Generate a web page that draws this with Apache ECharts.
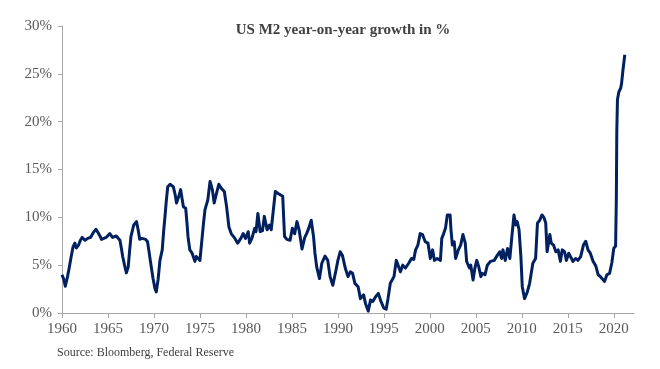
<!DOCTYPE html>
<html>
<head>
<meta charset="utf-8">
<script src="https://cdn.jsdelivr.net/npm/echarts@6/dist/echarts.min.js"></script>
<style>
html,body{margin:0;padding:0;background:#fff;}
#chart{width:660px;height:369px;}
</style>
</head>
<body>
<div id="chart"></div>
<script>
const titleText = 'US M2 year-on-year growth in %';
const sourceText = 'Source: Bloomberg, Federal Reserve';
const xTickYears = [1960,1965,1970,1975,1980,1985,1990,1995,2000,2005,2010,2015,2020];
const yTicks = [0,5,10,15,20,25,30];

const years = [
1960.0,1960.2,1960.36,1960.6,1960.8,1961.0,1961.2,1961.4,1961.55,1961.8,
1962.0,1962.2,1962.5,1962.8,1963.1,1963.4,1963.7,1963.9,1964.1,1964.3,
1964.45,1964.8,1965.0,1965.2,1965.5,1965.9,1966.1,1966.3,1966.45,1966.6,
1966.8,1967.0,1967.2,1967.35,1967.5,1967.8,1968.1,1968.3,1968.45,1968.7,
1968.9,1969.1,1969.3,1969.45,1969.6,1969.9,1970.1,1970.25,1970.45,1970.65,
1970.9,1971.05,1971.2,1971.35,1971.5,1971.75,1972.1,1972.3,1972.45,1972.7,
1972.9,1973.05,1973.2,1973.45,1973.6,1973.7,1973.9,1974.15,1974.45,1974.6,
1974.75,1975.0,1975.25,1975.4,1975.55,1975.85,1976.1,1976.35,1976.55,1976.8,
1977.05,1977.35,1977.65,1977.9,1978.15,1978.4,1978.6,1978.8,1979.1,1979.45,
1979.7,1979.95,1980.25,1980.4,1980.65,1980.95,1981.1,1981.3,1981.55,1981.8,
1982.0,1982.3,1982.55,1982.75,1982.95,1983.2,1983.5,1983.7,1984.0,1984.2,
1984.45,1984.8,1985.05,1985.3,1985.55,1985.8,1986.1,1986.4,1986.6,1986.85,
1987.1,1987.35,1987.5,1987.7,1988.0,1988.25,1988.6,1988.9,1989.15,1989.45,
1989.8,1990.0,1990.25,1990.5,1990.8,1991.1,1991.35,1991.6,1991.85,1992.2,
1992.45,1992.65,1992.8,1993.0,1993.3,1993.55,1993.8,1994.1,1994.4,1994.65,
1995.0,1995.25,1995.45,1995.7,1996.1,1996.35,1996.55,1996.8,1997.05,1997.35,
1997.7,1998.0,1998.25,1998.45,1998.7,1998.95,1999.2,1999.5,1999.8,2000.05,
2000.3,2000.5,2000.8,2001.15,2001.3,2001.5,2001.7,2001.9,2002.2,2002.3,
2002.45,2002.65,2002.8,2003.1,2003.35,2003.6,2003.85,2004.0,2004.3,2004.45,
2004.7,2004.9,2005.1,2005.3,2005.55,2005.7,2006.0,2006.25,2006.6,2007.0,
2007.35,2007.6,2007.8,2007.95,2008.2,2008.45,2008.7,2008.9,2009.15,2009.35,
2009.5,2009.7,2009.9,2010.05,2010.3,2010.6,2010.85,2011.2,2011.5,2011.7,
2011.95,2012.2,2012.4,2012.6,2012.75,2013.05,2013.2,2013.45,2013.7,2013.95,
2014.2,2014.4,2014.65,2014.85,2015.1,2015.4,2015.55,2015.85,2016.1,2016.4,
2016.7,2016.95,2017.2,2017.45,2017.75,2018.05,2018.3,2018.55,2018.75,2019.0,
2019.25,2019.55,2019.8,2020.0,2020.1,2020.2,2020.25,2020.28,2020.33,2020.4,
2020.55,2020.75,2020.85,2021.0,2021.2
];

const m2Growth = [
4.0,3.5,2.8,3.8,4.8,5.9,6.9,7.3,6.8,7.1,
7.6,7.9,7.6,7.8,7.9,8.4,8.75,8.7,8.1,7.7,
7.6,7.9,8.0,8.3,7.9,8.05,7.9,7.6,6.8,5.9,
5.0,4.2,4.8,6.5,8.0,9.2,9.55,8.6,7.7,7.8,
7.9,7.7,7.45,6.5,5.5,3.6,2.6,2.2,3.5,5.5,
6.6,8.5,10.1,11.8,13.2,13.45,13.2,12.4,11.5,12.2,
12.9,12.0,11.1,10.95,9.3,8.0,6.6,6.25,5.4,5.9,
5.7,5.5,8.0,9.5,10.8,11.8,13.75,12.9,11.5,12.5,
13.45,13.0,12.7,11.1,9.0,8.3,8.2,7.8,7.3,7.8,
8.3,7.8,8.5,7.3,7.8,8.85,8.5,10.4,8.5,8.6,
10.1,8.7,9.2,8.7,8.5,12.7,12.5,12.3,12.2,8.0,
7.7,7.6,8.85,8.3,9.55,8.6,6.7,7.9,8.3,8.9,
9.7,8.0,6.3,4.8,3.6,5.2,5.95,5.5,3.8,2.9,
4.5,5.5,6.4,6.0,4.7,3.8,4.3,4.15,3.1,2.75,
1.5,1.3,1.9,1.0,0.2,1.35,1.2,1.7,2.05,1.3,
0.5,0.4,1.5,3.1,3.8,5.5,5.0,4.3,5.0,4.7,
5.2,5.7,5.6,6.6,7.1,8.3,8.2,7.45,7.3,5.7,
6.6,5.5,5.7,5.5,7.8,8.3,8.85,10.25,10.25,8.7,
7.1,7.45,5.7,6.6,7.1,8.2,7.3,5.4,4.7,5.0,
3.45,4.7,5.5,4.9,3.8,4.15,4.0,5.0,5.4,5.5,
6.05,6.4,5.7,6.6,5.5,6.75,5.7,7.8,10.25,9.2,
9.55,8.7,5.9,2.75,1.5,2.2,3.1,5.2,5.7,9.4,
9.7,10.25,10.0,9.4,6.4,8.2,7.3,7.1,6.4,6.6,
5.4,6.6,6.4,5.5,6.25,5.7,5.4,5.7,5.5,5.9,
7.1,7.5,6.6,6.25,5.4,4.9,4.0,3.8,3.6,3.3,
4.0,4.15,5.3,6.75,6.6,7.0,7.1,12.0,19.0,22.3,
23.1,23.5,24.0,25.4,27.0
];

const seriesData = years.map((y, i) => [y, m2Growth[i]]);

const serif = '"Liberation Serif", "DejaVu Serif", serif';
const chart = echarts.init(document.getElementById('chart'), null, {renderer: 'canvas'});
chart.setOption({
  animation: false,
  backgroundColor: '#ffffff',
  title: {
    text: titleText,
    left: 338, top: 18, textAlign: 'center',
    textStyle: {fontFamily: serif, fontSize: 15, fontWeight: 'bold', color: '#404040'}
  },
  graphic: [{
    type: 'text', left: 57, top: 347,
    style: {text: sourceText, font: '12px ' + serif, fill: '#404040'}
  }],
  grid: {left: 62, right: 26, top: 26, bottom: 56, containLabel: false},
  xAxis: {
    type: 'value', min: 1960, max: 2022.2, interval: 5,
    splitLine: {show: false},
    axisLine: {show: true, lineStyle: {color: '#a6a6a6', width: 1}},
    axisTick: {show: true, length: 5, lineStyle: {color: '#a6a6a6'}, customValues: xTickYears},
    axisLabel: {
      customValues: xTickYears,
      formatter: v => String(v),
      fontFamily: serif, fontSize: 15, color: '#595959', margin: 9
    }
  },
  yAxis: {
    type: 'value', min: 0, max: 30, interval: 5,
    splitLine: {show: false},
    axisLine: {show: true, lineStyle: {color: '#a6a6a6', width: 1}},
    axisTick: {show: true, length: 4, lineStyle: {color: '#a6a6a6'}},
    axisLabel: {
      formatter: v => v + '%',
      fontFamily: serif, fontSize: 15, color: '#595959', margin: 10
    }
  },
  series: [{
    type: 'line', data: seriesData, showSymbol: false, symbol: 'none',
    lineStyle: {color: '#002060', width: 3, join: 'round'},
    itemStyle: {color: '#002060'}
  }]
});
</script>
</body>
</html>
